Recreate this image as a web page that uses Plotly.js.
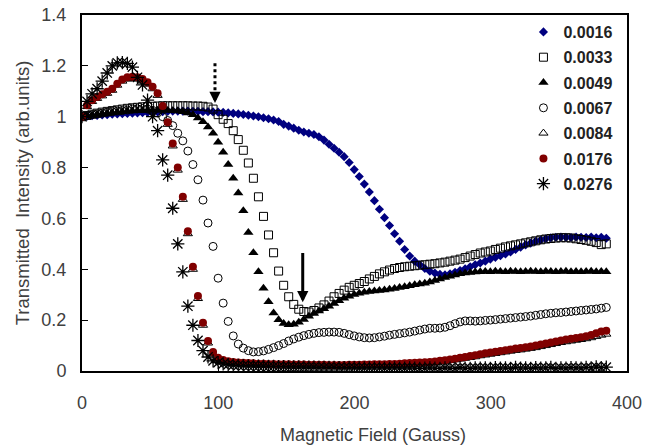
<!DOCTYPE html>
<html><head><meta charset="utf-8">
<script src="https://cdn.plot.ly/plotly-3.0.1.min.js"></script>
<style>html,body{margin:0;padding:0;background:#fff}#chart{width:646px;height:446px}</style>
</head><body><div id="chart"></div>
<script>
const fieldG = [0,3.7,7.4,11.1,14.8,18.5,22.2,25.9,29.6,33.3,
37,40.7,44.4,48.1,51.8,55.5,59.2,62.9,66.6,70.3,
74,77.7,81.4,85.1,88.8,92.5,96.2,99.9,103.6,107.3,
111,114.7,118.4,122.1,125.8,129.5,133.2,136.9,140.6,144.3,
148,151.7,155.4,159.1,162.8,166.5,170.2,173.9,177.6,181.3,
185,188.7,192.4,196.1,199.8,203.5,207.2,210.9,214.6,218.3,
222,225.7,229.4,233.1,236.8,240.5,244.2,247.9,251.6,255.3,
259,262.7,266.4,270.1,273.8,277.5,281.2,284.9,288.6,292.3,
296,299.7,303.4,307.1,310.8,314.5,318.2,321.9,325.6,329.3,
333,336.7,340.4,344.1,347.8,351.5,355.2,358.9,362.6,366.3,
370,373.7,377.4,381.1,384.8];

const t0016 = [1.000,1.002,1.004,1.005,1.007,1.008,1.010,1.011,1.012,1.013,
1.014,1.015,1.016,1.017,1.018,1.019,1.020,1.021,1.022,1.022,
1.022,1.022,1.021,1.021,1.020,1.020,1.019,1.018,1.017,1.015,
1.013,1.011,1.009,1.006,1.003,1.000,0.996,0.992,0.987,0.981,
0.970,0.963,0.955,0.947,0.940,0.935,0.930,0.921,0.908,0.892,
0.876,0.860,0.843,0.820,0.792,0.765,0.735,0.704,0.670,0.636,
0.603,0.572,0.540,0.510,0.478,0.452,0.432,0.418,0.403,0.392,
0.385,0.380,0.378,0.382,0.388,0.395,0.402,0.410,0.418,0.425,
0.432,0.440,0.447,0.453,0.460,0.468,0.478,0.487,0.496,0.503,
0.510,0.515,0.520,0.524,0.526,0.527,0.526,0.525,0.527,0.526,
0.525,0.527,0.524,0.526,0.522];

const t0033 = [1.000,1.005,1.010,1.014,1.018,1.021,1.024,1.027,1.030,1.033,
1.035,1.037,1.039,1.040,1.041,1.042,1.043,1.043,1.043,1.043,
1.043,1.043,1.042,1.042,1.041,1.038,1.030,1.008,0.990,0.973,
0.945,0.910,0.868,0.818,0.758,0.685,0.608,0.535,0.465,0.393,
0.337,0.292,0.262,0.243,0.234,0.232,0.238,0.248,0.260,0.275,
0.292,0.305,0.318,0.329,0.337,0.344,0.352,0.362,0.372,0.382,
0.390,0.397,0.403,0.407,0.410,0.412,0.414,0.416,0.418,0.420,
0.422,0.425,0.428,0.432,0.436,0.440,0.446,0.452,0.458,0.464,
0.468,0.472,0.478,0.483,0.488,0.492,0.496,0.500,0.504,0.508,
0.512,0.516,0.519,0.521,0.523,0.524,0.524,0.523,0.520,0.517,
0.514,0.510,0.505,0.497,0.500];

const t0049 = [1.000,1.003,1.006,1.009,1.012,1.014,1.016,1.018,1.020,1.021,
1.022,1.023,1.024,1.025,1.025,1.025,1.025,1.024,1.023,1.022,
1.020,1.015,1.008,0.995,0.980,0.960,0.935,0.900,0.860,0.812,
0.758,0.700,0.630,0.545,0.465,0.390,0.325,0.272,0.228,0.202,
0.187,0.182,0.184,0.192,0.203,0.215,0.226,0.236,0.245,0.255,
0.265,0.276,0.286,0.294,0.301,0.306,0.310,0.313,0.315,0.317,
0.319,0.321,0.324,0.328,0.331,0.335,0.339,0.342,0.345,0.350,
0.356,0.362,0.368,0.373,0.378,0.382,0.385,0.387,0.389,0.390,
0.391,0.390,0.392,0.391,0.390,0.392,0.391,0.390,0.391,0.392,
0.391,0.390,0.392,0.391,0.390,0.391,0.392,0.390,0.391,0.390,
0.391,0.392,0.390,0.391,0.390];

const t0067 = [1.000,1.004,1.008,1.011,1.014,1.017,1.020,1.022,1.024,1.026,
1.030,1.031,1.032,1.030,1.025,1.015,1.000,0.985,0.965,0.935,
0.905,0.865,0.812,0.752,0.672,0.582,0.490,0.365,0.267,0.195,
0.138,0.106,0.090,0.080,0.075,0.076,0.079,0.085,0.092,0.100,
0.108,0.118,0.126,0.133,0.139,0.144,0.148,0.151,0.152,0.153,
0.153,0.152,0.148,0.143,0.138,0.134,0.131,0.130,0.131,0.134,
0.137,0.141,0.144,0.147,0.150,0.153,0.157,0.161,0.165,0.168,
0.168,0.169,0.172,0.178,0.186,0.193,0.197,0.197,0.196,0.197,
0.199,0.200,0.202,0.204,0.206,0.208,0.210,0.212,0.214,0.216,
0.219,0.222,0.225,0.227,0.229,0.230,0.232,0.234,0.236,0.238,
0.240,0.242,0.244,0.247,0.250];

const t0084 = [1.000,1.040,1.060,1.072,1.082,1.092,1.104,1.124,1.140,1.148,
1.150,1.148,1.140,1.128,1.110,1.084,1.034,0.970,0.885,0.790,
0.675,0.540,0.400,0.285,0.180,0.110,0.068,0.046,0.037,0.032,
0.029,0.027,0.026,0.025,0.024,0.023,0.023,0.022,0.022,0.021,
0.021,0.021,0.020,0.020,0.020,0.019,0.019,0.019,0.019,0.018,
0.018,0.018,0.018,0.019,0.019,0.019,0.020,0.020,0.021,0.021,
0.021,0.022,0.022,0.023,0.024,0.025,0.026,0.027,0.029,0.031,
0.033,0.036,0.038,0.041,0.044,0.047,0.050,0.053,0.056,0.060,
0.063,0.066,0.069,0.072,0.075,0.078,0.081,0.083,0.086,0.089,
0.092,0.096,0.100,0.104,0.108,0.112,0.115,0.118,0.121,0.124,
0.127,0.131,0.136,0.141,0.145];

const t0176 = [1.000,1.045,1.065,1.078,1.088,1.098,1.110,1.130,1.146,1.155,
1.157,1.155,1.148,1.136,1.118,1.092,1.042,0.978,0.895,0.800,
0.685,0.550,0.410,0.295,0.190,0.118,0.075,0.052,0.043,0.038,
0.035,0.033,0.032,0.031,0.030,0.029,0.029,0.028,0.028,0.027,
0.027,0.027,0.026,0.026,0.026,0.025,0.025,0.025,0.025,0.024,
0.024,0.024,0.024,0.025,0.025,0.025,0.026,0.026,0.027,0.027,
0.027,0.028,0.028,0.029,0.030,0.031,0.032,0.033,0.034,0.035,
0.037,0.040,0.042,0.045,0.048,0.052,0.055,0.059,0.062,0.066,
0.070,0.073,0.076,0.079,0.082,0.085,0.088,0.090,0.093,0.096,
0.100,0.104,0.108,0.112,0.116,0.120,0.124,0.127,0.130,0.133,
0.137,0.142,0.148,0.155,0.158];

const t0276 = [1.000,1.060,1.090,1.110,1.140,1.172,1.200,1.212,1.213,1.210,
1.195,1.155,1.125,1.065,1.000,0.945,0.830,0.770,0.640,0.500,
0.390,0.255,0.180,0.120,0.080,0.055,0.040,0.033,0.028,0.025,
0.023,0.022,0.021,0.020,0.020,0.019,0.019,0.018,0.018,0.017,
0.017,0.016,0.016,0.016,0.015,0.015,0.015,0.014,0.014,0.014,
0.014,0.013,0.013,0.013,0.013,0.012,0.012,0.012,0.012,0.012,
0.011,0.011,0.012,0.011,0.011,0.012,0.011,0.010,0.011,0.012,
0.011,0.010,0.012,0.011,0.010,0.013,0.011,0.010,0.012,0.011,
0.012,0.010,0.013,0.011,0.012,0.010,0.014,0.011,0.012,0.010,
0.013,0.011,0.012,0.014,0.010,0.012,0.011,0.013,0.012,0.011,
0.014,0.012,0.016,0.013,0.015];

const seriesNames = ['0.0016','0.0033','0.0049','0.0067','0.0084','0.0176','0.0276'];
const seriesData = [t0016, t0033, t0049, t0067, t0084, t0176, t0276];
const yTickVals = [0,0.2,0.4,0.6,0.8,1,1.2,1.4];
const yTickText = ['0','0.2','0.4','0.6','0.8','1','1.2','1.4'];
const xTickVals = [0,100,200,300,400];
const xTickText = ['0','100','200','300','400'];

const styles = [
  {symbol:'diamond', size:7, color:'#000080', line:{width:0}},
  {symbol:'square-open', size:8, color:'#000000', line:{width:1}},
  {symbol:'triangle-up', size:9, color:'#000000', line:{width:0}},
  {symbol:'circle-open', size:8, color:'#000000', line:{width:1}},
  {symbol:'triangle-up-open', size:8, color:'#000000', line:{width:1}},
  {symbol:'circle', size:8, color:'#800000', line:{width:0}},
  {symbol:'asterisk-open', size:11, color:'#000000', line:{width:1.3}}
];

const traces = seriesNames.map((n,i)=>({
  type:'scatter', mode:'markers', name:n, x:fieldG, y:seriesData[i],
  legendgroup:'g'+i, marker:styles[i]
}));

const fontFam = 'Liberation Sans, Arial, sans-serif';
const layout = {
  width:646, height:446,
  margin:{l:82, r:19, t:15, b:75},
  paper_bgcolor:'#fff', plot_bgcolor:'#fff',
  showlegend:true,
  legend:{x:0.81, y:1.0, xanchor:'left', yanchor:'top', bgcolor:'rgba(0,0,0,0)',
    font:{family:fontFam, size:16, color:'#222', weight:'bold'}, tracegroupgap:1.5},
  xaxis:{range:[0,400], tickmode:'array', tickvals:xTickVals, ticktext:xTickText,
    ticks:'inside', ticklen:5, tickcolor:'#000', showgrid:false, zeroline:false,
    showline:true, linecolor:'#000', linewidth:2, mirror:true,
    tickfont:{family:fontFam, size:18, color:'#404040'}, ticklabelstandoff:14},
  yaxis:{range:[0,1.4], tickmode:'array', tickvals:yTickVals, ticktext:yTickText,
    ticks:'inside', ticklen:6, tickcolor:'#000', showgrid:false, zeroline:false,
    showline:true, linecolor:'#000', linewidth:2, mirror:true,
    tickfont:{family:fontFam, size:18, color:'#404040'}, ticklabelstandoff:10,
    title:{text:'Transmitted  Intensity (arb.units)', font:{family:fontFam, size:18.5, color:'#404040'}, standoff:7}},
  shapes:[
    {type:'line', xref:'x', yref:'y', x0:97.6, x1:97.6, y0:1.21, y1:1.09,
     line:{color:'#000', width:3, dash:'dot'}}
  ],
  annotations:[
    {text:'Magnetic Field (Gauss)', xref:'paper', yref:'paper', x:0.534, y:-0.18,
     xanchor:'center', yanchor:'middle', showarrow:false,
     font:{family:fontFam, size:18, color:'#404040'}},
    {x:162, y:0.27, ax:162, ay:0.47, axref:'x', ayref:'y', xref:'x', yref:'y',
     showarrow:true, arrowhead:2, arrowsize:0.75, arrowwidth:3, arrowcolor:'#000', text:''},
    {x:97.6, y:1.054, ax:97.6, ay:1.095, axref:'x', ayref:'y', xref:'x', yref:'y',
     showarrow:true, arrowhead:2, arrowsize:0.75, arrowwidth:3, arrowcolor:'#000', text:''}
  ]
};
Plotly.newPlot('chart', traces, layout, {displayModeBar:false, staticPlot:true});
</script></body></html>
